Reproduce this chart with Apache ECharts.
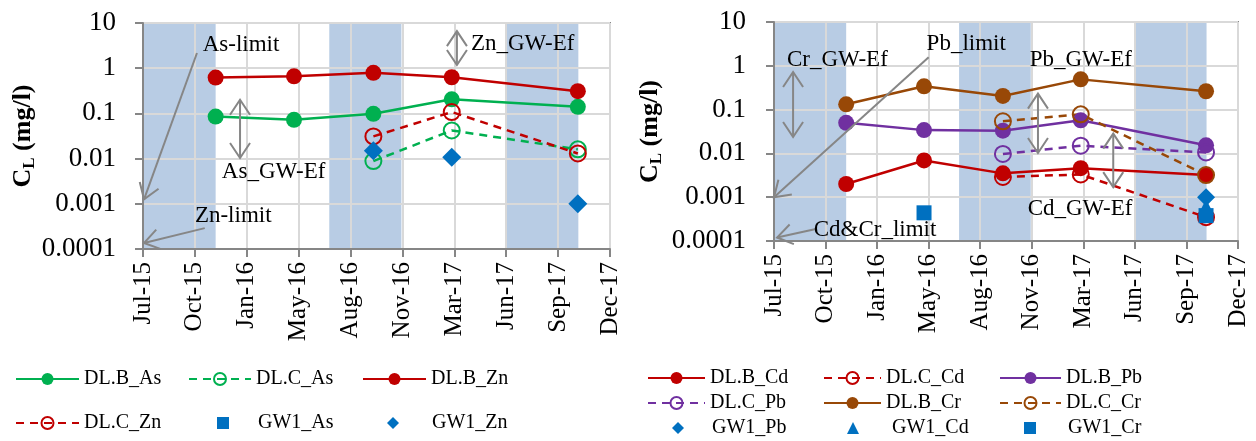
<!DOCTYPE html>
<html>
<head>
<meta charset="utf-8">
<script src="https://cdn.jsdelivr.net/npm/echarts@6/dist/echarts.min.js"></script>
<style>
html,body{margin:0;padding:0;background:#fff;}
#chart{width:1256px;height:441px;}
</style>
</head>
<body>
<div id="chart"></div>
<script>
// ---------- DATA ----------
const AXIS_START = '2015-07-15';           // first x tick (Jul-15), ticks every 100 days
const AXIS_DAYS = 900;
const TICK_DAYS = 100;
const SAMPLE_DATES = ['2015-12-02', '2016-05-01', '2016-10-01', '2017-03-01', '2017-10-30'];
const WET_SEASONS = [['2015-07-15', '2015-12-02'], ['2016-07-08', '2016-11-24'], ['2017-06-13', '2017-10-31']];

// left chart (As, Zn), mg/l
const DL_B_As = [0.085, 0.072, 0.098, 0.205, 0.14];
const DL_C_As = [null, null, 0.0088, 0.042, 0.016];
const DL_B_Zn = [0.62, 0.66, 0.79, 0.63, 0.31];
const DL_C_Zn = [null, null, 0.031, 0.107, 0.013];
const GW1_As  = [null, null, null, null, null];
const GW1_Zn  = [null, null, 0.015, 0.0107, 0.001];

// right chart (Cd, Pb, Cr), mg/l
const DL_B_Cd = [0.002, 0.0069, 0.0035, 0.0046, 0.0032];
const DL_C_Cd = [null, null, 0.0029, 0.0033, 0.00035];
const DL_B_Pb = [0.05, 0.034, 0.033, 0.057, 0.0153];
const DL_C_Pb = [null, null, 0.0097, 0.015, 0.0105];
const DL_B_Cr = [0.132, 0.34, 0.205, 0.49, 0.262];
const DL_C_Cr = [null, null, 0.054, 0.078, 0.0032];
const GW1_Pb  = [null, null, null, null, 0.001];
const GW1_Cd  = [null, null, null, null, 0.0006];
const GW1_Cr  = [null, 0.00044, null, null, 0.00038];

const Y_MIN = 0.0001, Y_MAX = 10;

// annotation arrows: [fromDate, fromValue, toDate, toValue, heads(1 = at "to", 2 = both)]
const ARROWS_LEFT = [
  ['2015-10-27', 2.17, '2015-07-17', 0.00125, 1],     // As-limit
  ['2015-11-11', 0.00029, '2015-07-17', 0.000136, 1], // Zn-limit
  ['2016-01-18', 0.2, '2016-01-18', 0.0103, 2],       // As_GW-Ef
  ['2017-03-11', 6.6, '2017-03-11', 1.18, 2]          // Zn_GW-Ef
];
const LABELS_LEFT = [
  ['2015-11-07', 3.26, 'As-limit'],
  ['2015-10-23', 0.00054, 'Zn-limit'],
  ['2015-12-14', 0.005, 'As_GW-Ef'],
  ['2017-04-07', 3.4, 'Zn_GW-Ef']
];
const ARROWS_RIGHT = [
  ['2016-05-10', 1.56, '2015-07-15', 0.001, 1],       // Pb_limit
  ['2015-10-02', 0.000185, '2015-07-21', 0.00012, 1], // Cd&Cr_limit
  ['2015-08-21', 0.72, '2015-08-21', 0.0237, 2],      // Cr_GW-Ef
  ['2016-12-08', 0.232, '2016-12-08', 0.0102, 2],     // Pb_GW-Ef
  ['2017-05-03', 0.0283, '2017-05-03', 0.0017, 2]     // Cd_GW-Ef
];
const LABELS_RIGHT = [
  ['2016-05-06', 3.2, 'Pb_limit'],
  ['2015-08-09', 1.33, 'Cr_GW-Ef'],
  ['2015-09-30', 0.000175, 'Cd&Cr_limit'],
  ['2016-11-22', 1.33, 'Pb_GW-Ef'],
  ['2016-11-18', 0.00055, 'Cd_GW-Ef']
];

// ---------- HELPERS ----------
const FONT = '"Liberation Serif", "Times New Roman", serif';
const MON = ['Jan','Feb','Mar','Apr','May','Jun','Jul','Aug','Sep','Oct','Nov','Dec'];
const startMs = Date.parse(AXIS_START + 'T00:00:00Z');
const toDays = s => (Date.parse(s + 'T00:00:00Z') - startMs) / 864e5;
const pts = vals => vals.map((v, i) => v == null ? null : [toDays(SAMPLE_DATES[i]), v]).filter(p => p);

const GREEN = '#00b050', RED = '#c00000', PURPLE = '#7030a0', BROWN = '#984807', BLUE = '#0070c0';
const GREY = '#868686';

function lineSeries(name, vals, color, dashed, grid) {
  const open = dashed;
  return {
    name, type: 'line', xAxisIndex: grid, yAxisIndex: grid, z: 2,
    data: pts(vals),
    symbol: 'circle',
    symbolSize: 16,
    showAllSymbol: true,
    lineStyle: { color, width: 2.5, type: dashed ? [8, 6] : 'solid' },
    itemStyle: open ? { color: 'rgba(255,255,255,0)', borderColor: color, borderWidth: 2, opacity: 1 } : { color, borderWidth: 0, opacity: 1 },
    emphasis: { disabled: true },
    animation: false
  };
}
function scatterSeries(name, vals, symbol, size, grid) {
  return {
    name, type: 'scatter', xAxisIndex: grid, yAxisIndex: grid, z: 2.5,
    data: pts(vals), symbol, symbolSize: size,
    itemStyle: { color: BLUE, opacity: 1 },
    emphasis: { disabled: true }, animation: false
  };
}
function bandSeries(grid) {
  return {
    type: 'custom', xAxisIndex: grid, yAxisIndex: grid, z: 0, silent: true, animation: false,
    data: WET_SEASONS.map(b => [toDays(b[0]), toDays(b[1]), 1]),
    encode: { x: [0, 1], y: 2 },
    renderItem(params, api) {
      const cs = params.coordSys;
      const x0 = api.coord([api.value(0), 1])[0];
      const x1 = api.coord([api.value(1), 1])[0];
      return { type: 'rect', shape: { x: x0, y: cs.y, width: x1 - x0, height: cs.height }, style: { fill: '#b8cce4' } };
    }
  };
}
function arrowSeries(arrows, grid) {
  return {
    type: 'custom', xAxisIndex: grid, yAxisIndex: grid, z: 3, silent: true, animation: false,
    data: arrows.map(a => [toDays(a[0]), a[1], toDays(a[2]), a[3]]),
    encode: { x: [0, 2], y: [1, 3] },
    renderItem(params, api) {
      const heads = arrows[params.dataIndex][4];
      const p = api.coord([api.value(0), api.value(1)]);
      const t = api.coord([api.value(2), api.value(3)]);
      const dx = t[0] - p[0], dy = t[1] - p[1];
      const len = Math.hypot(dx, dy);
      const ux = dx / len, uy = dy / len, nx = -uy, ny = ux;
      const L = 15, W = 10;
      const head = (tip, sx, sy) => [[tip[0] - sx * L + nx * W, tip[1] - sy * L + ny * W], tip, [tip[0] - sx * L - nx * W, tip[1] - sy * L - ny * W]];
      const st = { stroke: GREY, lineWidth: 2, fill: null };
      const children = [{ type: 'line', shape: { x1: p[0], y1: p[1], x2: t[0], y2: t[1] }, style: st }];
      children.push({ type: 'polyline', shape: { points: head(t, ux, uy) }, style: st });
      if (heads === 2) children.push({ type: 'polyline', shape: { points: head(p, -ux, -uy) }, style: st });
      return { type: 'group', children };
    }
  };
}
function textSeries(labels, grid) {
  return {
    type: 'custom', xAxisIndex: grid, yAxisIndex: grid, z: 4, silent: true, animation: false,
    data: labels.map(l => [toDays(l[0]), l[1]]),
    encode: { x: 0, y: 1 },
    renderItem(params, api) {
      const p = api.coord([api.value(0), api.value(1)]);
      return { type: 'text', x: p[0], y: p[1],
        style: { text: labels[params.dataIndex][2], fill: '#000', font: '23px ' + FONT, align: 'left', verticalAlign: 'middle' } };
    }
  };
}

function xAxis(grid) {
  return {
    type: 'value', gridIndex: grid, min: 0, max: AXIS_DAYS, interval: TICK_DAYS, z: 1,
    axisLine: { onZero: false, lineStyle: { color: GREY, width: 2 } },
    axisTick: { show: true, length: 8, lineStyle: { color: GREY, width: 2 } },
    splitLine: { show: true, lineStyle: { color: '#d9d9d9', width: 2 } },
    axisLabel: {
      rotate: 90, margin: 13, color: '#000', fontSize: 25, fontFamily: FONT,
      formatter: v => { const d = new Date(startMs + v * 864e5); return MON[d.getUTCMonth()] + '-' + String(d.getUTCFullYear()).slice(2); }
    }
  };
}
function yAxis(grid, gap, margin) {
  return {
    type: 'log', logBase: 10, gridIndex: grid, min: Y_MIN, max: Y_MAX, z: 1,
    axisLine: { onZero: false, lineStyle: { color: GREY, width: 2 } },
    axisTick: { show: true, length: 8, lineStyle: { color: GREY, width: 2 } },
    splitLine: { show: true, lineStyle: { color: '#d9d9d9', width: 2 } },
    axisLabel: { margin, color: '#000', fontSize: 27, fontFamily: FONT, formatter: v => String(Number(v.toPrecision(3))) },
    name: '{m|C}{s|L}{m| (mg/l)}', nameLocation: 'middle', nameGap: gap, nameRotate: 90,
    nameTextStyle: {
      color: '#000', fontFamily: FONT, fontWeight: 'bold', fontSize: 26,
      rich: {
        m: { color: '#000', fontFamily: FONT, fontWeight: 'bold', fontSize: 26, lineHeight: 28, verticalAlign: 'top' },
        s: { color: '#000', fontFamily: FONT, fontWeight: 'bold', fontSize: 17, lineHeight: 17, padding: [14, 0, 0, 0], verticalAlign: 'bottom' }
      }
    }
  };
}
// legend column of line-series items
function legendLines(left, top, gap, width, names) {
  return {
    orient: 'vertical', left, top, height: 120, itemGap: gap, itemWidth: width, itemHeight: 15,
    data: names, selectedMode: false, padding: 0,
    textStyle: { color: '#000', fontSize: 20, fontFamily: FONT, lineHeight: 20 }
  };
}
// legend item for a marker-only series (icon centre cx, text starting at tx)
function legendMarker(cx, tx, top, name, size) {
  const left = cx - size / 2;
  return {
    orient: 'vertical', left, top, height: 40, itemWidth: size, itemHeight: size,
    data: [name], selectedMode: false, padding: 0,
    textStyle: { color: '#000', fontSize: 20, fontFamily: FONT, lineHeight: 20, padding: [0, 0, 0, tx - (left + size + 5)] }
  };
}

const option = {
  animation: false,
  backgroundColor: '#fff',
  grid: [
    { left: 143, top: 23, width: 467, height: 226, show: true, borderColor: GREY, borderWidth: 2, backgroundColor: 'transparent' },
    { left: 774, top: 22, width: 464, height: 219, show: true, borderColor: GREY, borderWidth: 2, backgroundColor: 'transparent' }
  ],
  xAxis: [xAxis(0), xAxis(1)],
  yAxis: [yAxis(0, 105, 27), yAxis(1, 109, 28)],
  legend: [
    legendLines(15, 369, 24, 63, ['DL.B_As', 'DL.C_Zn']),
    legendLines(188, 369, 24, 62, ['DL.C_As']),
    legendMarker(223, 258, 413, 'GW1_As', 12),
    legendLines(362, 369, 24, 63, ['DL.B_Zn']),
    legendMarker(393, 432, 413, 'GW1_Zn', 12),
    legendLines(647, 368, 5, 57, ['DL.B_Cd', 'DL.C_Pb']),
    legendLines(823, 368, 5, 57, ['DL.C_Cd', 'DL.B_Cr']),
    legendLines(999, 368, 5, 61, ['DL.B_Pb', 'DL.C_Cr']),
    legendMarker(678, 712, 418, 'GW1_Pb', 12),
    legendMarker(853, 892, 418, 'GW1_Cd', 12),
    legendMarker(1030, 1068, 418, 'GW1_Cr', 12)
  ],
  series: [
    bandSeries(0), bandSeries(1),
    lineSeries('DL.B_As', DL_B_As, GREEN, false, 0),
    lineSeries('DL.C_As', DL_C_As, GREEN, true, 0),
    lineSeries('DL.B_Zn', DL_B_Zn, RED, false, 0),
    lineSeries('DL.C_Zn', DL_C_Zn, RED, true, 0),
    scatterSeries('GW1_As', GW1_As, 'rect', 15, 0),
    scatterSeries('GW1_Zn', GW1_Zn, 'diamond', 19, 0),
    lineSeries('DL.B_Cd', DL_B_Cd, RED, false, 1),
    lineSeries('DL.C_Cd', DL_C_Cd, RED, true, 1),
    lineSeries('DL.B_Pb', DL_B_Pb, PURPLE, false, 1),
    lineSeries('DL.C_Pb', DL_C_Pb, PURPLE, true, 1),
    lineSeries('DL.B_Cr', DL_B_Cr, BROWN, false, 1),
    lineSeries('DL.C_Cr', DL_C_Cr, BROWN, true, 1),
    scatterSeries('GW1_Pb', GW1_Pb, 'diamond', 18, 1),
    scatterSeries('GW1_Cd', GW1_Cd, 'triangle', 16, 1),
    scatterSeries('GW1_Cr', GW1_Cr, 'rect', 15, 1),
    arrowSeries(ARROWS_LEFT, 0), arrowSeries(ARROWS_RIGHT, 1),
    textSeries(LABELS_LEFT, 0), textSeries(LABELS_RIGHT, 1)
  ]
};

const chart = echarts.init(document.getElementById('chart'), null, { renderer: 'canvas' });
chart.setOption(option);
</script>
</body>
</html>
